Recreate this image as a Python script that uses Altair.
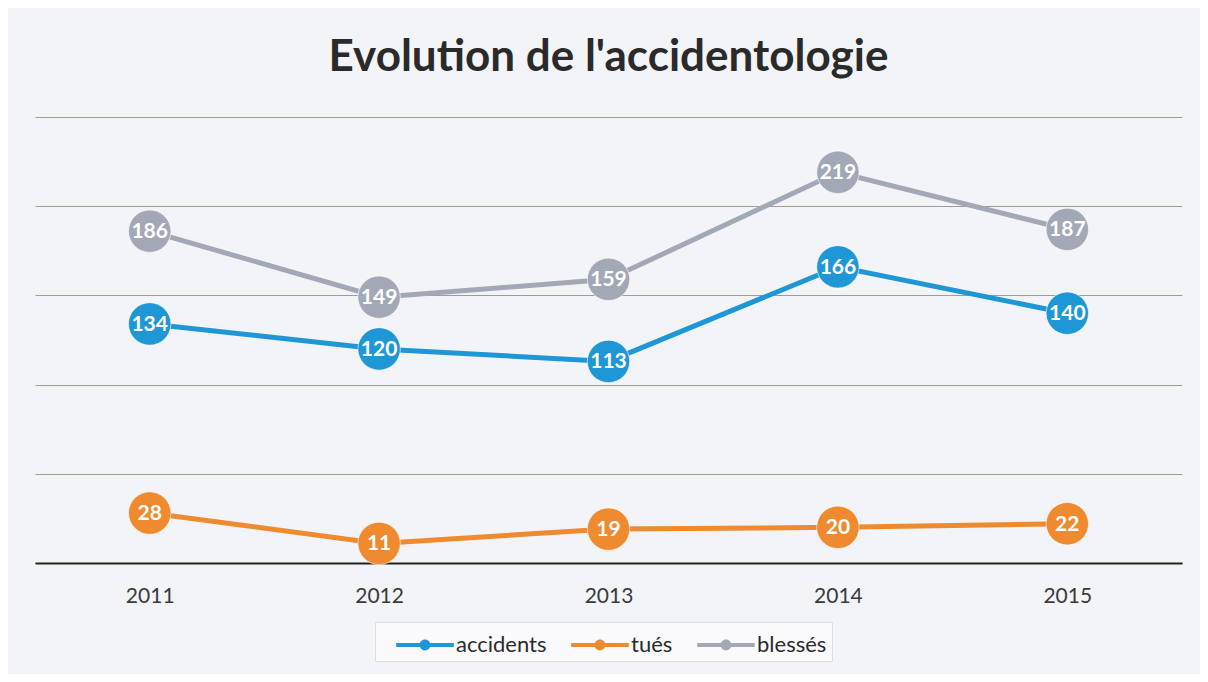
import altair as alt
import pandas as pd

years = ["2011", "2012", "2013", "2014", "2015"]
accidents = [134, 120, 113, 166, 140]
tues = [28, 11, 19, 20, 22]
blesses = [186, 149, 159, 219, 187]
series = ["accidents", "tués", "blessés"]
colors = ["#1f97d6", "#ef8a2f", "#a3a8b7"]

rows = []
for name, vals in zip(series, [accidents, tues, blesses]):
    for yr, v in zip(years, vals):
        rows.append({"year": yr, "serie": name, "value": v})
df = pd.DataFrame(rows)

FONT = "Lato"
legend_path = ("M-0.1,-0.11 L3.1,-0.11 L3.1,0.11 L-0.1,0.11 Z "
               "M1.2,0 A0.3,0.3 0 1,1 1.8,0 A0.3,0.3 0 1,1 1.2,0 Z")

x = alt.X("year:N", sort=years, title=None,
          axis=alt.Axis(labelAngle=0, labelFontSize=21, labelColor="#3a3a3a",
                        labelFont=FONT, labelPadding=22, ticks=False,
                        domain=True, domainColor="#222222", domainWidth=2))
y = alt.Y("value:Q", title=None,
          scale=alt.Scale(domain=[0, 250], nice=False),
          axis=alt.Axis(values=[0, 50, 100, 150, 200, 250], labels=False,
                        ticks=False, domain=False, grid=True,
                        gridColor="#9c9c9c", gridWidth=1))
color_scale = alt.Scale(domain=series, range=colors)

base = alt.Chart(df)

lines = base.mark_line(strokeWidth=5).encode(
    x=x, y=y,
    color=alt.Color("serie:N", scale=color_scale, legend=None),
    detail="serie:N",
)

points = base.mark_point(filled=True, size=1800, opacity=1,
                         stroke="#ffffff", strokeWidth=1, strokeOpacity=0.6).encode(
    x=x, y=y,
    color=alt.Color("serie:N", scale=color_scale, sort=series,
                    legend=alt.Legend(title=None, orient="none",
                                      legendX=340, legendY=505,
                                      direction="horizontal",
                                      symbolType=legend_path, symbolSize=1296,
                                      symbolStrokeWidth=0, symbolOpacity=1,
                                      labelFontSize=22, labelFont=FONT,
                                      labelColor="#2b2b2b", labelOffset=40,
                                      columnPadding=8, padding=5,
                                      fillColor="#fbfbfd", strokeColor="#dcdde2")),
)

labels = base.mark_text(color="white", fontWeight="bold", fontSize=21,
                        font=FONT, baseline="middle", dy=1).encode(
    x=x, y=y, text="value:Q",
)

chart = alt.layer(lines, points, labels).resolve_legend(
    color="independent"
).properties(
    width=1147, height=446,
    autosize="none",
    padding={"left": 27, "top": 109, "right": 18, "bottom": 111},
    background="#f3f4f7",
    title=alt.TitleParams("Evolution de l'accidentologie", fontSize=44,
                          font=FONT, fontWeight="bold", color="#2a2a2a",
                          anchor="middle", offset=37),
).configure_view(stroke=None)

chart.save("out.html", embed_options={"renderer": "svg", "actions": False})
